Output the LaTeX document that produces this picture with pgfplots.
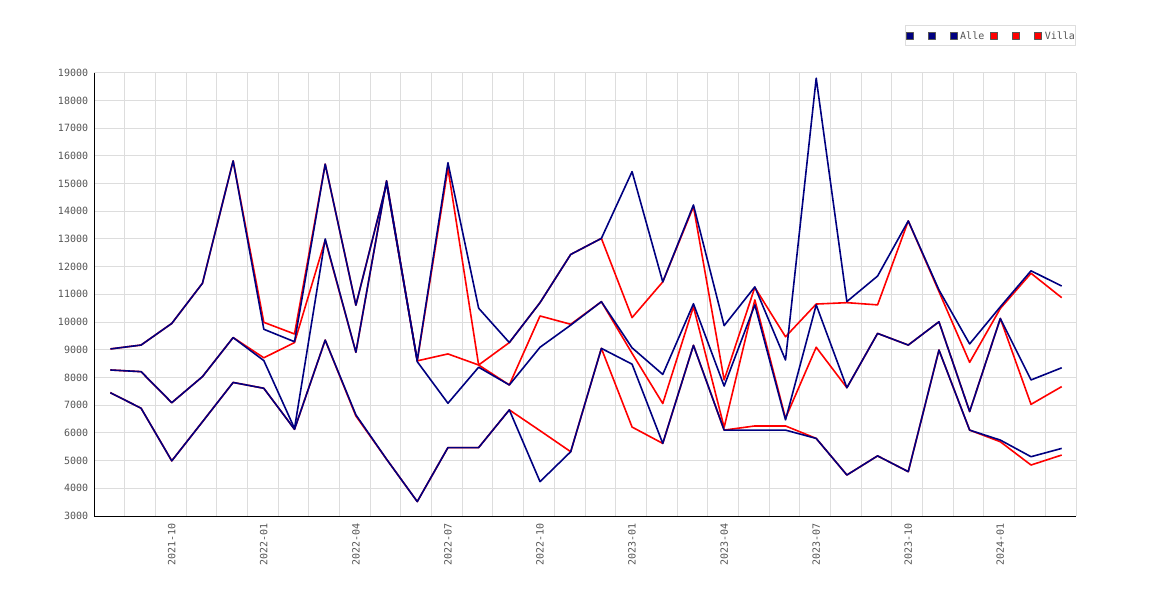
\documentclass[border=0pt]{standalone}
\usepackage{fontspec}
\setmonofont{DejaVu Sans Mono}
\usepackage{pgfplots}
\usepackage{pgfplotstable}
\pgfplotsset{compat=1.18}
\definecolor{navyc}{RGB}{0,0,128}
\definecolor{redc}{RGB}{255,0,0}
\definecolor{gridc}{RGB}{221,221,221}
\definecolor{txtc}{RGB}{85,85,85}

\pgfplotstableread{
i a1 a2 a3 v1 v2 v3
0 9030 8270 7450 9030 8270 7450
1 9170 8210 6890 9170 8210 6890
2 9950 7090 4990 9950 7090 4990
3 11400 8030 6400 11400 8030 6400
4 15820 9440 7820 15820 9440 7820
5 9740 8610 7610 9990 8710 7610
6 9290 6160 6130 9570 9260 6130
7 15700 13000 9350 15700 12960 9350
8 10610 8910 6650 10610 8910 6610
9 15000 15100 5050 15000 15100 5050
10 8620 8570 3520 8600 8600 3520
11 15750 7070 5470 15550 8850 5470
12 10500 8370 5470 8450 8450 5470
13 9260 7730 6830 9260 7730 6830
14 10700 9090 4240 10700 10220 6080
15 12440 9890 5320 12440 9920 5320
16 13020 10735 9050 13020 10735 9050
17 15430 9070 8480 10160 8870 6210
18 11450 8110 5620 11450 7060 5620
19 14225 10660 9160 14165 10555 9160
20 9870 7690 6100 7910 6200 6100
21 11270 10620 6100 11250 10800 6250
22 8630 6470 6100 9470 6530 6250
23 18800 10620 5800 10650 9090 5800
24 10740 7630 4480 10700 7630 4480
25 11660 9590 5170 10620 9590 5170
26 13650 9170 4600 13650 9170 4600
27 11160 10010 8990 11100 10010 8990
28 9210 6770 6100 8545 6770 6100
29 10550 10130 5740 10490 10130 5680
30 11850 7910 5140 11760 7030 4840
31 11300 8350 5440 10880 7670 5200
}\data

\begin{document}
\begin{tikzpicture}
\path[use as bounding box] (-94pt,-84pt) rectangle (1076pt,516pt);
\begin{axis}[
  at={(0pt,0pt)}, anchor=south west,
  scale only axis, width=982pt, height=443.3pt,
  xmin=-0.534, xmax=31.466, ymin=3000, ymax=19000,
  axis lines*=left,
  axis line style={-, black, line width=1pt},
  xtick={2,5,...,29},
  xticklabels={2021-10,2022-01,2022-04,2022-07,2022-10,2023-01,2023-04,2023-07,2023-10,2024-01},
  minor xtick={-0.534,0.466,...,31.466},
  xminorgrids=true, xmajorgrids=false,
  ytick={3000,4000,...,19000}, ymajorgrids=true,
  scaled y ticks=false,
  grid style={gridc, line width=1pt},
  minor grid style={gridc, line width=1pt},
  major tick length=0pt, minor tick length=0pt,
  /pgf/number format/assume math mode=true,
  /pgf/number format/1000 sep={},
  /pgf/number format/fixed,
  tick label style={font=\fontsize{10}{12}\selectfont\ttfamily, text=txtc},
  yticklabel style={inner sep=0pt, xshift=-5.7pt, anchor=east},
  xticklabel style={inner sep=0pt, yshift=-7pt, rotate=90, anchor=east},
  legend columns=6,
  legend cell align=left,
  legend style={
    at={(rel axis cs:1,1)}, anchor=south east, yshift=26.7pt,
    draw=gridc, line width=1pt, fill=white,
    inner xsep=0.5pt, inner ysep=6pt,
    font=\fontsize{10}{12}\selectfont\ttfamily, text=txtc,
    nodes={inner sep=0pt, text height=7.3pt, text depth=0pt},
    /tikz/every odd column/.append style={column sep=3pt},
    /tikz/every even column/.append style={column sep=6pt},
  },
  line join=round,
]
\addlegendimage{legend image code/.code={\draw[fill=navyc, draw=txtc, line width=0.6pt] (0pt,-3.5pt) rectangle (7pt,3.5pt);}}
\addlegendentry{\makebox[5.4pt]{}}
\addlegendimage{legend image code/.code={\draw[fill=navyc, draw=txtc, line width=0.6pt] (0pt,-3.5pt) rectangle (7pt,3.5pt);}}
\addlegendentry{\makebox[5.4pt]{}}
\addlegendimage{legend image code/.code={\draw[fill=navyc, draw=txtc, line width=0.6pt] (0pt,-3.5pt) rectangle (7pt,3.5pt);}}
\addlegendentry{Alle}
\addlegendimage{legend image code/.code={\draw[fill=redc, draw=txtc, line width=0.6pt] (0pt,-3.5pt) rectangle (7pt,3.5pt);}}
\addlegendentry{\makebox[5.4pt]{}}
\addlegendimage{legend image code/.code={\draw[fill=redc, draw=txtc, line width=0.6pt] (0pt,-3.5pt) rectangle (7pt,3.5pt);}}
\addlegendentry{\makebox[5.4pt]{}}
\addlegendimage{legend image code/.code={\draw[fill=redc, draw=txtc, line width=0.6pt] (0pt,-3.5pt) rectangle (7pt,3.5pt);}}
\addlegendentry{Villa}

\addplot[redc, line width=1.6pt, forget plot] table[x=i,y=v1]{\data};
\addplot[redc, line width=1.6pt, forget plot] table[x=i,y=v2]{\data};
\addplot[redc, line width=1.6pt, forget plot] table[x=i,y=v3]{\data};
\addplot[navyc, line width=1.6pt, forget plot] table[x=i,y=a1]{\data};
\addplot[navyc, line width=1.6pt, forget plot] table[x=i,y=a2]{\data};
\addplot[navyc, line width=1.6pt, forget plot] table[x=i,y=a3]{\data};
\end{axis}
\end{tikzpicture}
\end{document}
